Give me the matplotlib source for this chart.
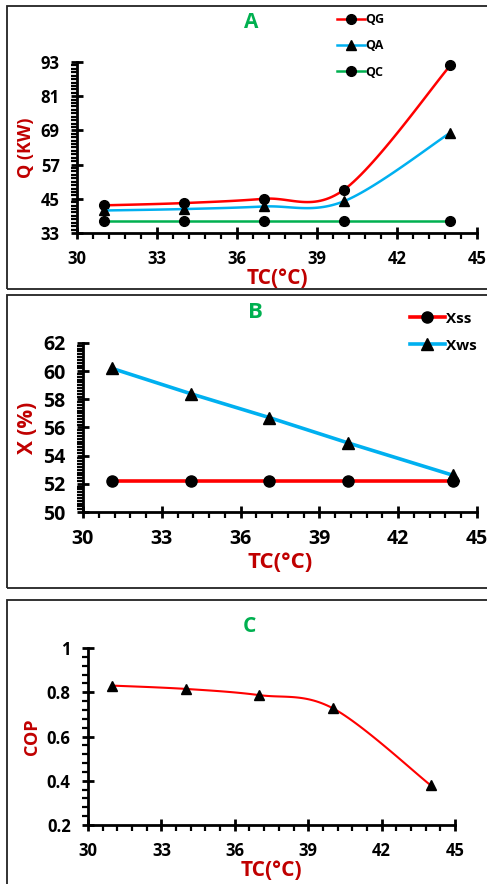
import numpy as np
import matplotlib
matplotlib.use("Agg")
import matplotlib.pyplot as plt
from matplotlib.patches import Rectangle
from matplotlib.ticker import MultipleLocator, FixedLocator

plt.rcParams['font.family'] = ['Open Sans', 'DejaVu Sans']
plt.rcParams['font.weight'] = 'bold'

# condenser temperature (deg C)
tc = [31, 34, 37, 40, 44]
# panel A: heat loads (kW)
qg = [42.7, 43.5, 45.0, 48.1, 91.8]
qa = [40.9, 41.4, 42.3, 44.1, 68.2]
qc = [37.1, 37.1, 37.1, 37.1, 37.1]
# panel B: concentrations (%)
tc_b = [31.1, 34.1, 37.1, 40.1, 44.1]
xss = [52.2, 52.2, 52.2, 52.2, 52.2]
xws = [60.2, 58.4, 56.7, 54.9, 52.6]
# panel C: COP
cop = [0.83, 0.815, 0.787, 0.728, 0.38]

RED = '#FF0000'
BLUE = '#00B0F0'
GREEN = '#00B050'
LABEL = '#C00000'

W, H = 487, 884
fig = plt.figure(figsize=(W / 100, H / 100), dpi=100)


def box(l, t, r, b):
    """axes rect from pixel edges"""
    return [l / W, 1 - b / H, (r - l) / W, (b - t) / H]


def smooth(xs, ys, xlim, ylim, wpx, hpx, n=30):
    """excel-like smoothed line (catmull-rom bezier in pixel space)"""
    px = (np.array(xs) - xlim[0]) / (xlim[1] - xlim[0]) * wpx
    py = (np.array(ys) - ylim[0]) / (ylim[1] - ylim[0]) * hpx
    P = np.column_stack([px, py])
    P = np.vstack([P[0], P, P[-1]])
    out = []
    t = np.linspace(0, 1, n + 1)[:, None]
    for i in range(1, len(P) - 2):
        p0, p3 = P[i], P[i + 1]
        c1 = p0 + (P[i + 1] - P[i - 1]) / 6
        c2 = p3 - (P[i + 2] - P[i]) / 6
        seg = ((1 - t) ** 3) * p0 + 3 * ((1 - t) ** 2) * t * c1 + 3 * (1 - t) * t ** 2 * c2 + t ** 3 * p3
        out.append(seg if i == 1 else seg[1:])
    out = np.vstack(out)
    x = out[:, 0] / wpx * (xlim[1] - xlim[0]) + xlim[0]
    y = out[:, 1] / hpx * (ylim[1] - ylim[0]) + ylim[0]
    marks = [k * n for k in range(len(xs))]
    return x, y, marks


def style(ax, ylim, ymaj, ymin, tsize):
    ax.set_xlim(30, 45)
    ax.set_ylim(*ylim)
    ax.xaxis.set_major_locator(MultipleLocator(3))
    ax.xaxis.set_minor_locator(MultipleLocator(0.6))
    ax.yaxis.set_major_locator(FixedLocator(np.arange(ylim[0], ylim[1] + 1e-9, ymaj)))
    ax.yaxis.set_minor_locator(FixedLocator(np.arange(ylim[0], ylim[1] + 1e-9, ymin)))
    for s in ['top', 'right']:
        ax.spines[s].set_visible(False)
    for s in ['left', 'bottom']:
        ax.spines[s].set_linewidth(2)
    ax.tick_params(which='major', direction='inout', length=9, width=2, labelsize=tsize)
    ax.tick_params(which='minor', direction='out', length=4, width=1.6)
    ax.tick_params(axis='x', which='major', pad=8)
    ax.tick_params(axis='y', which='major', pad=8)
    ax.set_facecolor('none')
    for lb in ax.get_xticklabels() + ax.get_yticklabels():
        lb.set_fontweight('bold')


# panel frames
for t, b in [(6, 289), (295, 588), (600, 890)]:
    fig.patches.append(Rectangle((7 / W, 1 - b / H), 490 / W, (b - t) / H,
                                 transform=fig.transFigure, fill=False,
                                 edgecolor='#222222', linewidth=1.3))

# ---- A ----
axA = fig.add_axes(box(77, 62, 477, 233))
ylA = (33, 93)
for ys, c, m, lab in [(qg, RED, 'o', 'QG'), (qa, BLUE, '^', 'QA'), (qc, GREEN, 'o', 'QC')]:
    x, y, mk = smooth(tc, ys, (30, 45), ylA, 400, 171)
    axA.plot(x, y, color=c, lw=1.8, marker=m, markevery=mk, ms=7,
             mfc='black', mec='black', label=lab, clip_on=False)
style(axA, ylA, 12, 1.2, 12)
axA.set_ylabel('Q (KW)', color=LABEL, fontsize=13, fontweight='bold', labelpad=4)
axA.set_xlabel('TC(°C)', color=LABEL, fontsize=15, fontweight='bold', labelpad=0)
fig.text(251 / W, 1 - 22 / H, 'A', color=GREEN, fontsize=15, fontweight='bold', ha='center', va='center')
fig.legend(*axA.get_legend_handles_labels(), loc='upper left',
           bbox_to_anchor=(326 / W, 1 - 2 / H), frameon=False, fontsize=9,
           handlelength=2.2, labelspacing=1.05, handletextpad=0.05, markerscale=1.0)

# ---- B ----
axB = fig.add_axes(box(83, 343, 477, 512))
axB.plot(tc_b, xss, color=RED, lw=2.6, marker='o', ms=8, mfc='black', mec='black', label='Xss', clip_on=False)
axB.plot(tc_b, xws, color=BLUE, lw=2.6, marker='^', ms=8, mfc='black', mec='black', label='Xws', clip_on=False)
style(axB, (50, 62), 2, 0.2, 14)
axB.set_ylabel('X (%)', color=LABEL, fontsize=15, fontweight='bold', labelpad=4)
axB.set_xlabel('TC(°C)', color=LABEL, fontsize=16, fontweight='bold', labelpad=2)
fig.text(255 / W, 1 - 312 / H, 'B', color=GREEN, fontsize=16, fontweight='bold', ha='center', va='center')
fig.legend(*axB.get_legend_handles_labels(), loc='upper left',
           bbox_to_anchor=(396 / W, 1 - 298 / H), frameon=False, fontsize=11,
           handlelength=2.3, labelspacing=0.85, handletextpad=0.1)

# ---- C ----
axC = fig.add_axes(box(88, 648, 455, 825))
ylC = (0.2, 1.0)
x, y, mk = smooth(tc, cop, (30, 45), ylC, 367, 177)
axC.plot(x, y, color=RED, lw=1.5, marker='^', markevery=mk, ms=7, mfc='black', mec='black', clip_on=False)
style(axC, ylC, 0.2, 0.04, 12)
axC.yaxis.set_major_formatter(matplotlib.ticker.FuncFormatter(lambda v, p: '%g' % round(v, 2)))
axC.set_ylabel('COP', color=LABEL, fontsize=13, fontweight='bold', labelpad=4)
axC.set_xlabel('TC(°C)', color=LABEL, fontsize=15, fontweight='bold', labelpad=0)
fig.text(249 / W, 1 - 627 / H, 'C', color=GREEN, fontsize=15, fontweight='bold', ha='center', va='center')

fig.savefig('out.png', dpi=100)
